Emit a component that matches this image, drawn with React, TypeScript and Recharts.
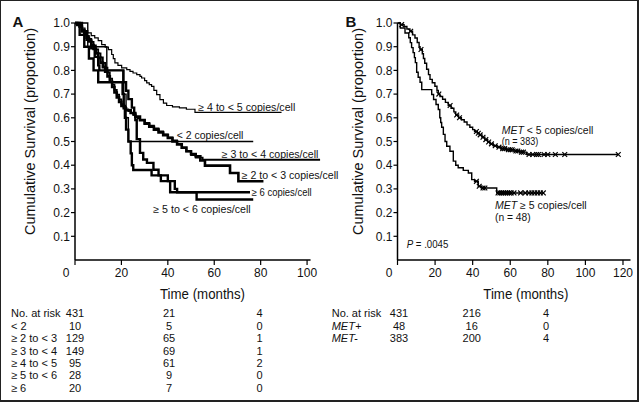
import React from 'react';
import { ComposedChart, Line, XAxis, YAxis, ReferenceLine } from 'recharts';

type Pt = [number, number, number?];

// ---------- axis ticks ----------
const monthTicksA = [0, 20, 40, 60, 80, 100];
const monthTicksB = [0, 20, 40, 60, 80, 100, 120];
const survTicks = [0.1, 0.2, 0.3, 0.4, 0.5, 0.6, 0.7, 0.8, 0.9, 1.0];

// ---------- Panel A curves (months, survival) ----------
const curveLt2: Pt[] = [[0, 1], [5.5, 0.9], [13.7, 0.8], [21, 0.7], [22, 0.6], [23, 0.5], [76.8, 0.5]];
const curve2to3: Pt[] = [
  [0, 1], [1, 0.992], [2, 0.984], [3, 0.969], [4, 0.953], [5, 0.938], [6, 0.922], [7, 0.907], [8, 0.891],
  [9, 0.872], [10, 0.853], [11, 0.833], [12, 0.814], [13, 0.794], [14, 0.775], [15, 0.752], [16, 0.73],
  [17, 0.707], [18, 0.686], [19, 0.667], [20, 0.65], [21, 0.64], [22, 0.632], [24, 0.62], [26, 0.605],
  [28, 0.59], [30, 0.575], [32, 0.562], [34, 0.55], [36, 0.538], [38, 0.527], [40, 0.515], [42, 0.5],
  [44, 0.488], [46, 0.474], [48, 0.459], [50, 0.447], [52, 0.438], [54, 0.42], [56, 0.398], [66.8, 0.367],
  [70.4, 0.332], [81.2, 0.332],
];
const curve3to4: Pt[] = [
  [0, 1], [1, 0.993], [2, 0.987], [3, 0.973], [4, 0.96], [5, 0.946], [6, 0.933], [7, 0.92], [8, 0.906],
  [9, 0.889], [10, 0.872], [11, 0.855], [12, 0.832], [13, 0.812], [14, 0.792], [15, 0.765], [16, 0.74],
  [17, 0.718], [18, 0.698], [19, 0.678], [20, 0.658], [21, 0.645], [22, 0.635], [23, 0.628], [24, 0.62],
  [25, 0.612], [26, 0.604], [27, 0.598], [28, 0.59], [30, 0.578], [32, 0.567], [34, 0.555], [36, 0.543],
  [38, 0.53], [40, 0.517], [42, 0.505], [44, 0.49], [46, 0.472], [48, 0.458], [50, 0.443], [52, 0.432],
  [55, 0.423], [105.6, 0.423],
];
const curve4to5: Pt[] = [
  [0, 1], [1.5, 0.989], [3, 0.979], [4.3, 0.968], [5.5, 0.958], [7, 0.947], [8.5, 0.937], [10, 0.926],
  [11.5, 0.909], [13, 0.898], [14.4, 0.888], [15.8, 0.867], [16.5, 0.85], [17.2, 0.832], [18.5, 0.821],
  [20.1, 0.811], [22.3, 0.803], [23.7, 0.796], [25, 0.789], [26.6, 0.782], [28, 0.775], [28.7, 0.768],
  [30, 0.757], [30.9, 0.747], [32, 0.74], [33, 0.733], [34, 0.716], [35.2, 0.698], [36.6, 0.677],
  [38.1, 0.662], [39.5, 0.652], [42, 0.646], [45, 0.642], [48, 0.636], [51.7, 0.623], [89, 0.623],
];
const curve5to6: Pt[] = [
  [0, 1], [3, 0.964], [5, 0.929], [7, 0.893], [8.5, 0.857], [10, 0.821], [10.5, 0.8], [20.8, 0.75],
  [22, 0.714], [23, 0.679], [24.5, 0.643], [25.5, 0.614], [26, 0.59], [26.6, 0.51], [28, 0.452],
  [29.4, 0.424], [31, 0.41], [33.8, 0.381], [36, 0.357], [40, 0.333], [43, 0.3], [44, 0.286],
  [52.4, 0.255], [76.8, 0.255],
];
const curveGe6: Pt[] = [
  [0, 1], [2, 0.95], [4, 0.9], [6, 0.85], [8, 0.8], [10, 0.75], [20.5, 0.7], [21, 0.65], [21.5, 0.6],
  [22, 0.55], [23, 0.5], [24, 0.45], [24.5, 0.4], [25.1, 0.38], [33, 0.357], [37, 0.333], [41, 0.286],
  [75.4, 0.286],
];

// ---------- Panel B curves (months, survival, censored) ----------
const metLow: Pt[] = [
  [0, 1], [1.5, 0.993], [2.2, 0.993, 1], [3.5, 0.985], [5, 0.975], [6.6, 0.965], [7, 0.965, 1], [8, 0.95],
  [9.3, 0.937], [10.5, 0.918], [11.5, 0.9], [12, 0.888], [12.5, 0.888, 1], [13.2, 0.87], [13.8, 0.85],
  [14.5, 0.83], [15.5, 0.805], [16.5, 0.782], [17.3, 0.762], [18.5, 0.748], [19.9, 0.733], [21, 0.715],
  [21.7, 0.7], [22, 0.7, 1], [22.6, 0.69], [24, 0.678], [25.5, 0.665], [27, 0.652], [28, 0.652, 1],
  [28.5, 0.64], [30, 0.625], [31, 0.612], [31.5, 0.612, 1], [32.5, 0.6], [33, 0.6, 1], [34, 0.592],
  [35.5, 0.582], [37, 0.57], [38.5, 0.56], [40, 0.55], [41, 0.542], [42, 0.542, 1], [42.5, 0.535],
  [43, 0.535, 1], [43.5, 0.528], [44, 0.528, 1], [45, 0.518], [45.5, 0.518, 1], [46.5, 0.508],
  [47, 0.508, 1], [48, 0.498], [48.5, 0.498, 1], [49.2, 0.49], [50, 0.49, 1], [51, 0.482], [52, 0.482, 1],
  [53, 0.476], [54, 0.476, 1], [55, 0.47], [56, 0.47, 1], [57, 0.47, 1], [58, 0.465], [59, 0.465, 1],
  [60, 0.465, 1], [61, 0.465, 1], [62, 0.46], [63, 0.46, 1], [64, 0.46, 1], [65, 0.455], [66, 0.455, 1],
  [67, 0.455, 1], [68.7, 0.445], [70, 0.445, 1], [72, 0.445, 1], [74, 0.445, 1], [75, 0.445, 1],
  [78, 0.445, 1], [80, 0.445, 1], [84, 0.445, 1], [89, 0.445, 1], [117.5, 0.445, 1],
];
const metHigh: Pt[] = [
  [0, 1], [1.5, 0.979], [4, 0.958], [6, 0.938], [6.8, 0.917], [7.5, 0.896], [8.3, 0.875], [9, 0.854],
  [9.5, 0.833], [10.2, 0.792], [11, 0.771], [12, 0.75], [12.9, 0.719], [18.2, 0.698], [19.2, 0.677],
  [20.5, 0.656], [21.7, 0.635], [22.5, 0.6], [23, 0.58], [23.5, 0.56], [24.4, 0.53], [25.3, 0.5],
  [26.2, 0.48], [27.9, 0.459], [29.7, 0.417], [31, 0.4], [32.3, 0.389], [35, 0.378], [37.7, 0.367],
  [39.5, 0.339], [41, 0.332], [42, 0.332, 1], [43, 0.311], [43.5, 0.311, 1], [44.8, 0.304],
  [45.5, 0.304, 1], [46.5, 0.304, 1], [52.8, 0.283], [53.5, 0.283, 1], [54.5, 0.283, 1], [55.5, 0.283, 1],
  [56.5, 0.283, 1], [57.5, 0.283, 1], [58.5, 0.283, 1], [59.5, 0.283, 1], [60.5, 0.283, 1], [62, 0.283, 1],
  [65.5, 0.283, 1], [68, 0.283, 1], [70, 0.283, 1], [71.5, 0.283, 1], [73, 0.283, 1], [74.5, 0.283, 1],
  [76, 0.283, 1], [77.6, 0.283, 1],
];

// ---------- Number at risk tables ----------
const riskLabelsA = ['No. at risk', '< 2', '≥ 2 to < 3', '≥ 3 to < 4', '≥ 4 to < 5', '≥ 5 to < 6', '≥ 6'];
const riskA0 = [431, 10, 129, 149, 95, 28, 20];
const riskA40 = [21, 5, 65, 69, 61, 9, 7];
const riskA80 = [4, 0, 1, 1, 2, 0, 0];
const riskLabelsB = ['No. at risk', 'MET+', 'MET-'];
const riskB0 = [431, 48, 383];
const riskB40 = [216, 16, 200];
const riskB80 = [4, 0, 4];

const FONT = '"Liberation Sans", Arial, Helvetica, sans-serif';
const INK = '#111';

const rows = (pts: Pt[]) => pts.map(([t, s, c]) => ({ t, s, c: c ? 1 : 0 }));

const censorDot = (props: any) => {
  const { cx, cy, payload, index } = props;
  if (!payload || !payload.c || cx == null || cy == null) return <g key={`n${index}`} />;
  const r = 2.4;
  return (
    <path
      key={`c${index}`}
      d={`M${cx - r},${cy - r}L${cx + r},${cy + r}M${cx - r},${cy + r}L${cx + r},${cy - r}`}
      stroke="#000"
      strokeWidth={1.2}
      fill="none"
    />
  );
};

const makeXTick = (zeroShift: number) => (props: any) => {
  const { x, y, payload } = props;
  const dx = payload.value === 0 ? zeroShift : 0;
  return (
    <text x={x + dx} y={y} dy="0.71em" textAnchor="middle" fontSize={12} fill={INK} fontFamily={FONT}>
      {payload.value}
    </text>
  );
};

const YTick = (props: any) => {
  const { x, y, payload } = props;
  return (
    <text x={x} y={y} dy="0.355em" textAnchor="end" fontSize={12} fill={INK} fontFamily={FONT}>
      {Number(payload.value).toFixed(1)}
    </text>
  );
};

const seriesA: { name: string; pts: Pt[]; w: number }[] = [
  { name: '≥ 4 to < 5', pts: curve4to5, w: 1.2 },
  { name: '< 2', pts: curveLt2, w: 1.4 },
  { name: '≥ 3 to < 4', pts: curve3to4, w: 1.8 },
  { name: '≥ 2 to < 3', pts: curve2to3, w: 2.6 },
  { name: '≥ 5 to < 6', pts: curve5to6, w: 2.4 },
  { name: '≥ 6', pts: curveGe6, w: 2.4 },
];

const Txt = (p: { x: number; y: number; w?: number; size?: number; anchor?: string; children: React.ReactNode; italic?: boolean; bold?: boolean }) => (
  <text
    x={p.x}
    y={p.y}
    fontSize={p.size ?? 10.5}
    fill={INK}
    fontFamily={FONT}
    textAnchor={(p.anchor as any) ?? 'start'}
    fontStyle={p.italic ? 'italic' : 'normal'}
    fontWeight={p.bold ? 'bold' : 'normal'}
    {...(p.w ? { textLength: p.w, lengthAdjust: 'spacingAndGlyphs' } : {})}
  >
    {p.children}
  </text>
);

export default function App() {
  const rowY = (i: number) => 317.3 + i * 12.4;
  return (
    <div style={{ position: 'absolute', left: 0, top: 0, width: 640, height: 403, background: '#fff', overflow: 'hidden' }}>
      {/* Panel A */}
      <div style={{ position: 'absolute', left: 0, top: 0 }}>
        <ComposedChart width={330} height={300} margin={{ top: 23, right: 9, bottom: 10, left: 35 }}>
          <XAxis
            type="number"
            dataKey="t"
            domain={[0, 106]}
            ticks={monthTicksA}
            interval={0}
            axisLine={false}
            tickLine={{ stroke: '#000', strokeWidth: 1.2 }}
            tickSize={5}
            tickMargin={3}
            height={30}
            tick={makeXTick(-9)}
          />
          <YAxis
            type="number"
            dataKey="s"
            domain={[0, 1]}
            ticks={survTicks}
            interval={0}
            width={40}
            axisLine={{ stroke: '#000', strokeWidth: 1.5 }}
            tickLine={{ stroke: '#000', strokeWidth: 1.2 }}
            tickSize={4}
            tickMargin={1}
            tick={YTick}
          />
          <ReferenceLine segment={[{ x: 0, y: 0 }, { x: 101.5, y: 0 }]} stroke="#000" strokeWidth={1.6} />
          {seriesA.map((s) => (
            <Line
              key={s.name}
              data={rows(s.pts)}
              dataKey="s"
              type="stepAfter"
              stroke="#000"
              strokeWidth={s.w}
              dot={false}
              activeDot={false}
              isAnimationActive={false}
            />
          ))}
        </ComposedChart>
      </div>

      {/* Panel B */}
      <div style={{ position: 'absolute', left: 320, top: 0 }}>
        <ComposedChart width={320} height={300} margin={{ top: 23, right: 9.5, bottom: 10, left: 37.5 }}>
          <XAxis
            type="number"
            dataKey="t"
            domain={[0, 124]}
            ticks={monthTicksB}
            interval={0}
            axisLine={{ stroke: '#000', strokeWidth: 1.6 }}
            tickLine={{ stroke: '#000', strokeWidth: 1.2 }}
            tickSize={5}
            tickMargin={3}
            height={30}
            tick={makeXTick(-8.5)}
          />
          <YAxis
            type="number"
            dataKey="s"
            domain={[0, 1]}
            ticks={survTicks}
            interval={0}
            width={40}
            axisLine={{ stroke: '#000', strokeWidth: 1.5 }}
            tickLine={{ stroke: '#000', strokeWidth: 1.2 }}
            tickSize={4}
            tickMargin={1}
            tick={YTick}
          />
          <Line data={rows(metHigh)} dataKey="s" type="stepAfter" stroke="#000" strokeWidth={1.4} dot={censorDot} activeDot={false} isAnimationActive={false} />
          <Line data={rows(metLow)} dataKey="s" type="stepAfter" stroke="#000" strokeWidth={1.4} dot={censorDot} activeDot={false} isAnimationActive={false} />
        </ComposedChart>
      </div>

      {/* Text overlay */}
      <svg width={640} height={403} style={{ position: 'absolute', left: 0, top: 0, pointerEvents: 'none' }}>
        <Txt x={18} y={27} size={15} bold anchor="middle">A</Txt>
        <Txt x={351} y={27} size={15} bold anchor="middle">B</Txt>

        <text x={35} y={131.5} transform="rotate(-90 35 131.5)" textAnchor="middle" fontSize={14} fill={INK} fontFamily={FONT} textLength={207} lengthAdjust="spacingAndGlyphs">
          Cumulative Survival (proportion)
        </text>
        <text x={363} y={131.5} transform="rotate(-90 363 131.5)" textAnchor="middle" fontSize={14} fill={INK} fontFamily={FONT} textLength={207} lengthAdjust="spacingAndGlyphs">
          Cumulative Survival (proportion)
        </text>

        <Txt x={202.5} y={298.5} size={15} w={85} anchor="middle">Time (months)</Txt>
        <Txt x={525.8} y={298.5} size={15} w={85} anchor="middle">Time (months)</Txt>

        {/* Panel A annotations */}
        <Txt x={198.3} y={111} w={97}>≥ 4 to &lt; 5 copies/cell</Txt>
        <Txt x={176.7} y={138.5} w={66.7}>&lt; 2 copies/cell</Txt>
        <Txt x={221.7} y={157.5} w={96.7}>≥ 3 to &lt; 4 copies/cell</Txt>
        <Txt x={241.7} y={178.5} w={96.7}>≥ 2 to &lt; 3 copies/cell</Txt>
        <Txt x={251.7} y={196} w={60}>≥ 6 copies/cell</Txt>
        <Txt x={153.3} y={212.5} w={97.4}>≥ 5 to &lt; 6 copies/cell</Txt>

        {/* Panel B annotations */}
        <text x={501.7} y={133.5} fontSize={10.5} fill={INK} fontFamily={FONT} textLength={91.6} lengthAdjust="spacingAndGlyphs">
          <tspan fontStyle="italic">MET</tspan> &lt; 5 copies/cell
        </text>
        <Txt x={501.7} y={145} w={36.6}>(n = 383)</Txt>
        <text x={495} y={208.5} fontSize={10.5} fill={INK} fontFamily={FONT} textLength={91.7} lengthAdjust="spacingAndGlyphs">
          <tspan fontStyle="italic">MET</tspan> ≥ 5 copies/cell
        </text>
        <Txt x={495} y={221} w={35.7}>(n = 48)</Txt>
        <text x={406.7} y={247.5} fontSize={10.5} fill={INK} fontFamily={FONT} textLength={41.6} lengthAdjust="spacingAndGlyphs">
          <tspan fontStyle="italic">P</tspan> = .0045
        </text>

        {/* Number at risk A */}
        {riskLabelsA.map((l, i) => (
          <Txt key={`la${i}`} x={11} y={rowY(i)} size={11}>{l}</Txt>
        ))}
        {riskA0.map((v, i) => (
          <Txt key={`a0${i}`} x={75} y={rowY(i)} size={11} anchor="middle">{v}</Txt>
        ))}
        {riskA40.map((v, i) => (
          <Txt key={`a40${i}`} x={169} y={rowY(i)} size={11} anchor="middle">{v}</Txt>
        ))}
        {riskA80.map((v, i) => (
          <Txt key={`a80${i}`} x={259.5} y={rowY(i)} size={11} anchor="middle">{v}</Txt>
        ))}

        {/* Number at risk B */}
        {riskLabelsB.map((l, i) => (
          <Txt key={`lb${i}`} x={331.7} y={rowY(i)} size={11} italic={i > 0}>{l}</Txt>
        ))}
        {riskB0.map((v, i) => (
          <Txt key={`b0${i}`} x={399} y={rowY(i)} size={11} anchor="middle">{v}</Txt>
        ))}
        {riskB40.map((v, i) => (
          <Txt key={`b40${i}`} x={471.7} y={rowY(i)} size={11} anchor="middle">{v}</Txt>
        ))}
        {riskB80.map((v, i) => (
          <Txt key={`b80${i}`} x={546} y={rowY(i)} size={11} anchor="middle">{v}</Txt>
        ))}
      </svg>

      {/* Frame */}
      <div
        style={{
          position: 'absolute',
          left: 0,
          top: 0,
          width: 639,
          height: 402,
          boxSizing: 'border-box',
          borderStyle: 'solid',
          borderColor: '#222',
          borderWidth: '1px 2px 2px 1px',
          pointerEvents: 'none',
        }}
      />
    </div>
  );
}
